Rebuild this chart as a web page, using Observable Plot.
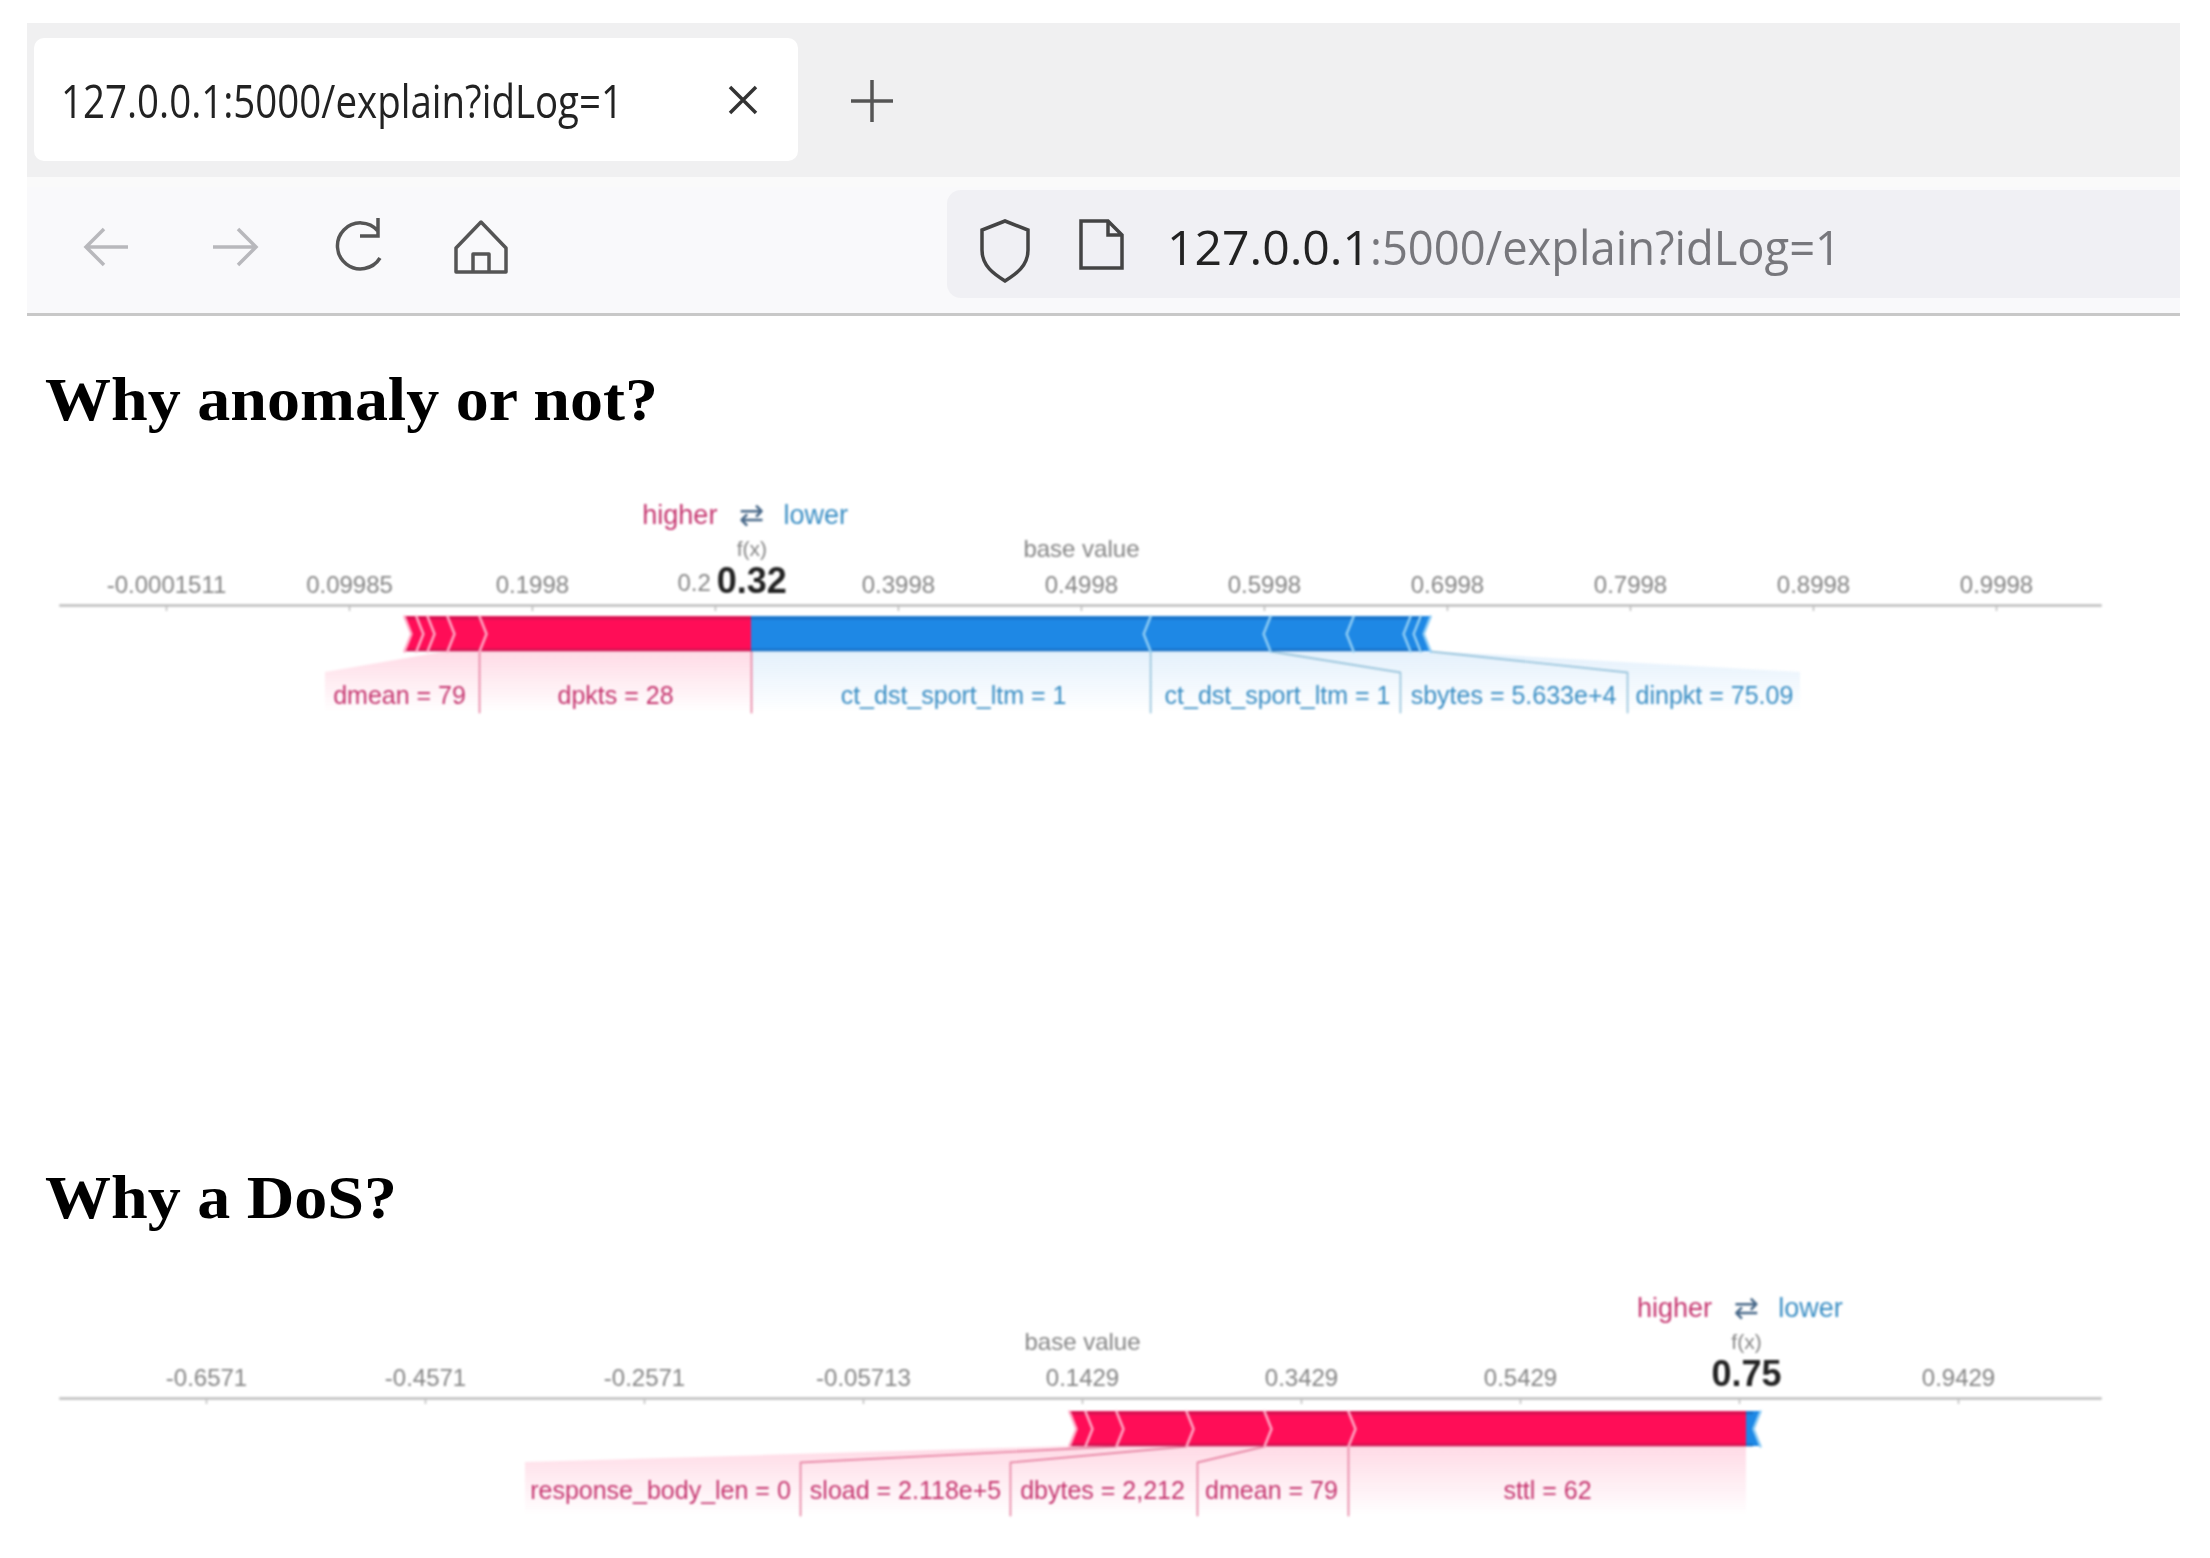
<!DOCTYPE html>
<html>
<head>
<meta charset="utf-8">
<script src="https://cdn.jsdelivr.net/npm/d3@7"></script>
<script src="https://cdn.jsdelivr.net/npm/@observablehq/plot@0.6"></script>
<style>
html,body{margin:0;padding:0;background:#fff;}
#page{position:relative;width:2210px;height:1558px;overflow:hidden;}
#chrome{position:absolute;left:0;top:0;filter:blur(.7px);}
.plot{position:absolute;left:0;filter:blur(.9px);}
#plotA{top:490px;}
#plotB{top:1285px;}
</style>
</head>
<body>
<div id="page">
<svg id="chrome" width="2210" height="1558" xmlns="http://www.w3.org/2000/svg">
  <rect x="27" y="23" width="2153" height="154" fill="#f0f0f1"/>
  <rect x="27" y="177" width="2153" height="136" fill="#f9f9fb"/>
  <rect x="27" y="177" width="2153" height="10" fill="#fafafa"/>
  <rect x="34" y="38" width="764" height="123" rx="10" fill="#ffffff"/>
  <rect x="947" y="190" width="1233" height="108" rx="14" fill="#f0f0f4"/>
  <rect x="1500" y="190" width="680" height="108" fill="#f0f0f4"/>
  <rect x="27" y="313" width="2153" height="3" fill="#c8c8c8"/>
  <text x="61" y="118" font-family="Open Sans" font-size="45" fill="#222" textLength="562" lengthAdjust="spacingAndGlyphs">127.0.0.1:5000/explain?idLog=1</text>
  <path d="M730 87 L756 113 M756 87 L730 113" stroke="#333" stroke-width="3.5" fill="none"/>
  <path d="M872 80 V122 M851 101 H893" stroke="#555" stroke-width="3.5" fill="none"/>
  <path d="M128 247 H86 M104 229 L86 247 L104 265" stroke="#b8b8bc" stroke-width="3.5" fill="none"/>
  <path d="M213 247 H256 M238 229 L256 247 L238 265" stroke="#b8b8bc" stroke-width="3.5" fill="none"/>
  <path d="M378 231 A23 23 0 1 0 380 258 M378 218 V236 H360" stroke="#555" stroke-width="3.5" fill="none"/>
  <path d="M481 222 L456 248 V272 H506 V248 Z M473 272 V254 H489 V272" stroke="#555" stroke-width="3.5" fill="none" stroke-linejoin="round"/>
  <path d="M1005 221 L1028 230 V250 C1028 266 1016 274 1005 281 C994 274 982 266 982 250 V230 Z" stroke="#444" stroke-width="3.5" fill="none"/>
  <path d="M1081 221 H1108 L1122 235 V268 H1081 Z M1108 221 V235 H1122" stroke="#444" stroke-width="3.5" fill="none"/>
  <text x="1167" y="265" font-family="Open Sans" font-size="48" fill="#222" textLength="203" lengthAdjust="spacingAndGlyphs">127.0.0.1</text>
  <text x="1370" y="265" font-family="Open Sans" font-size="48" fill="#77777c" textLength="471" lengthAdjust="spacingAndGlyphs">:5000/explain?idLog=1</text>
  <text x="45" y="420" font-family="Liberation Serif" font-weight="bold" font-size="62" fill="#000" textLength="613" lengthAdjust="spacingAndGlyphs">Why anomaly or not?</text>
  <text x="45" y="1218" font-family="Liberation Serif" font-weight="bold" font-size="62" fill="#000" textLength="352" lengthAdjust="spacingAndGlyphs">Why a DoS?</text>
</svg>
<div id="plotA" class="plot"></div>
<div id="plotB" class="plot"></div>
</div>
<script>
// ---- Chart 1: "Why anomaly or not?" ----
// Tick 0.2998 is mostly covered by the f(x) value in the reference: only "0.2" can be read.
const anomalyTicks = [-0.0001511, 0.09985, 0.1998, 0.2998, 0.3998, 0.4998, 0.5998, 0.6998, 0.7998, 0.8998, 0.9998];
const anomalyTickLabels = ["-0.0001511", "0.09985", "0.1998", "", "0.3998", "0.4998", "0.5998", "0.6998", "0.7998", "0.8998", "0.9998"];
const anomalyPartialTick = {x: 0.2998, text: "0.2"};
const anomalyRedEdges = [0.1299, 0.1364, 0.1425, 0.1534, 0.1709, 0.3195];
const anomalyBlueEdges = [0.3195, 0.5376, 0.6031, 0.6485, 0.6796, 0.6851, 0.6906];
const anomalyFeatures = ["dmean = 79", "dpkts = 28", "ct_dst_sport_ltm = 1", "ct_dst_sport_ltm = 1", "sbytes = 5.633e+4", "dinpkt = 75.09"];
const anomalyFeatureX = [0.1272, 0.2452, 0.4299, 0.6069, 0.7359, 0.8457];
const anomalySides = ["red", "red", "blue", "blue", "blue", "blue"];
const anomalyZoneBarLo = [0.1534, 0.1709, 0.3195, 0.5376, 0.6031, 0.6906];
const anomalyZoneBarHi = [0.1709, 0.3195, 0.5376, 0.6031, 0.6906, 0.6906];
const anomalyZoneLabelLo = [0.0867, 0.1709, 0.3195, 0.5376, 0.6741, 0.7982];
const anomalyZoneLabelHi = [0.1709, 0.3195, 0.5376, 0.6741, 0.7982, 0.8927];
const anomalyFx = 0.3197, anomalyFxLabel = "0.32", anomalyBase = 0.4998;

// ---- Chart 2: "Why a DoS?" ----
// Tick 0.7429 is entirely covered by the f(x) value in the reference.
const dosTicks = [-0.6571, -0.4571, -0.2571, -0.05713, 0.1429, 0.3429, 0.5429, 0.7429, 0.9429];
const dosTickLabels = ["-0.6571", "-0.4571", "-0.2571", "-0.05713", "0.1429", "0.3429", "0.5429", "", "0.9429"];
const dosRedEdges = [0.1310, 0.1456, 0.1739, 0.2379, 0.3091, 0.3858, 0.7493];
const dosBlueEdges = [0.7493, 0.7621];
const dosFeatures = ["response_body_len = 0", "sload = 2.118e+5", "dbytes = 2,212", "dmean = 79", "sttl = 62"];
const dosFeatureX = [-0.2425, -0.0187, 0.1612, 0.3155, 0.5676];
const dosSides = ["red", "red", "red", "red", "red"];
const dosZoneBarLo = [0.1310, 0.1739, 0.2379, 0.3091, 0.3858];
const dosZoneBarHi = [0.1739, 0.2379, 0.3091, 0.3858, 0.7493];
const dosZoneLabelLo = [-0.3658, -0.1146, 0.0771, 0.2479, 0.3858];
const dosZoneLabelHi = [-0.1146, 0.0771, 0.2479, 0.3858, 0.7493];
const dosFx = 0.7493, dosFxLabel = "0.75", dosBase = 0.1429;

const RED = "#ff0d57", BLUE = "#1e88e5";
const RED_TEXT = "#c5356f", BLUE_TEXT = "#3a8ec4", TICK_TEXT = "#858585";

function forcePlot({id, ticks, tickLabels, partialTick, redEdges, blueEdges, features, featureX, sides,
                    zoneBarLo, zoneBarHi, zoneLabelLo, zoneLabelHi, fx, fxLabel, base,
                    xRange, xDomain, chevron, axisTop, barTop, connector, dropEnd}) {
  const W = 2210, barH = 35;
  const yAt = px => (px - barTop) / barH;              // bar-height units, 0 = top of bar, 1 = bottom
  const axisY = yAt(axisTop), connY = yAt(connector), endY = yAt(dropEnd);

  const segments = [];
  redEdges.slice(0, -1).forEach((lo, i) => {
    const hi = redEdges[i + 1], last = i === redEdges.length - 2;
    segments.push({key: "r" + i, side: "red", y: 0, x1: lo, x2: hi});
    segments.push({key: "r" + i, side: "red", y: .5, x1: lo + chevron, x2: last ? hi : hi + chevron});
    segments.push({key: "r" + i, side: "red", y: 1, x1: lo, x2: hi});
  });
  blueEdges.slice(0, -1).forEach((lo, i) => {
    const hi = blueEdges[i + 1];
    segments.push({key: "b" + i, side: "blue", y: 0, x1: lo, x2: hi});
    segments.push({key: "b" + i, side: "blue", y: .5, x1: i === 0 ? lo : lo - chevron, x2: hi - chevron});
    segments.push({key: "b" + i, side: "blue", y: 1, x1: lo, x2: hi});
  });

  const seps = [];
  redEdges.slice(0, -1).forEach((e, i) => {
    [0, .5, 1].forEach(y => seps.push({key: "r" + i, side: "red", x: y === .5 ? e + chevron : e, y}));
  });
  blueEdges.slice(1).forEach((e, i) => {
    [0, .5, 1].forEach(y => seps.push({key: "b" + i, side: "blue", x: y === .5 ? e - chevron : e, y}));
  });

  const zones = [];
  features.forEach((f, i) => {
    zones.push({key: i, side: sides[i], y: 1, x1: zoneBarLo[i], x2: zoneBarHi[i]});
    zones.push({key: i, side: sides[i], y: connY, x1: zoneLabelLo[i], x2: zoneLabelHi[i]});
    zones.push({key: i, side: sides[i], y: endY, x1: zoneLabelLo[i], x2: zoneLabelHi[i]});
  });

  const drops = [];
  features.forEach((f, i) => {
    drops.push({key: i, side: sides[i], x: zoneBarHi[i], y: 1});
    drops.push({key: i, side: sides[i], x: zoneLabelHi[i], y: connY});
    drops.push({key: i, side: sides[i], x: zoneLabelHi[i], y: endY});
  });
  const dropsShown = drops.filter(d => !(d.key === features.length - 1));

  const rowFont = 25;
  const defs = () => d3.create("svg:defs").html(
    `<linearGradient id="${id}r" x1="0" y1="0" x2="0" y2="1"><stop offset="0" stop-color="${RED}" stop-opacity=".15"/><stop offset="1" stop-color="${RED}" stop-opacity="0"/></linearGradient>
     <linearGradient id="${id}b" x1="0" y1="0" x2="0" y2="1"><stop offset="0" stop-color="${BLUE}" stop-opacity=".12"/><stop offset="1" stop-color="${BLUE}" stop-opacity="0"/></linearGradient>`
  ).node();

  const plot = Plot.plot({
    width: W, height: 240,
    marginLeft: 60, marginRight: W - 2100, marginTop: axisTop, marginBottom: 0,
    style: {background: "transparent", fontFamily: "Liberation Sans", overflow: "visible"},
    x: {domain: xDomain, range: xRange, axis: null},
    y: {domain: [0, 1], range: [barTop, barTop + barH], axis: null},
    marks: [
      defs,
      Plot.frame({anchor: "top", stroke: "#bdbdbd", strokeWidth: 2.5}),
      Plot.ruleX(ticks, {x: d => d, y1: axisY, y2: yAt(axisTop + 6), stroke: "#bdbdbd", strokeWidth: 1.5}),
      Plot.axisX({anchor: "top", ticks, tickFormat: d => tickLabels[ticks.indexOf(d)],
        tickSize: 0, tickPadding: 13, fontSize: 24, fill: TICK_TEXT, label: null, lineWidth: Infinity}),
      ...(partialTick ? [Plot.text([partialTick], {x: "x", y: yAt(axisTop - 22), dx: -38, text: "text",
        textAnchor: "start", fontSize: 24, fill: TICK_TEXT})] : []),
      Plot.areaX(zones.filter(d => d.side === "red"), {x1: "x1", x2: "x2", y: "y", z: "key", fill: `url(#${id}r)`}),
      Plot.areaX(zones.filter(d => d.side === "blue"), {x1: "x1", x2: "x2", y: "y", z: "key", fill: `url(#${id}b)`}),
      Plot.line(dropsShown.filter(d => d.side === "red"), {x: "x", y: "y", z: "key", stroke: "#e88aa8", strokeWidth: 1.8, curve: "linear"}),
      Plot.line(dropsShown.filter(d => d.side === "blue"), {x: "x", y: "y", z: "key", stroke: "#9cc6dd", strokeWidth: 1.8, curve: "linear"}),
      Plot.areaX(segments.filter(d => d.side === "red"), {x1: "x1", x2: "x2", y: "y", z: "key", fill: RED}),
      Plot.areaX(segments.filter(d => d.side === "blue"), {x1: "x1", x2: "x2", y: "y", z: "key", fill: BLUE}),
      Plot.ruleY([.04, .96], {x1: redEdges[0], x2: redEdges[redEdges.length - 1], stroke: "#b8174f", strokeOpacity: .6, strokeWidth: 3}),
      Plot.ruleY([.04, .96], {x1: blueEdges[0], x2: blueEdges[blueEdges.length - 1] - chevron, stroke: "#1565b5", strokeOpacity: .6, strokeWidth: 3}),
      Plot.line(seps.filter(d => d.side === "red"), {x: "x", y: "y", z: "key", stroke: "#ffa9c4", strokeWidth: 2.5}),
      Plot.line(seps.filter(d => d.side === "blue"), {x: "x", y: "y", z: "key", stroke: "#8fcdf5", strokeWidth: 2.5}),
      Plot.text(features.map((f, i) => ({f, x: featureX[i], side: sides[i]})), {
        x: "x", y: yAt(barTop + 79), text: "f", fontSize: rowFont,
        fill: d => d.side === "red" ? RED_TEXT : BLUE_TEXT, lineWidth: Infinity}),
      Plot.text([fx], {x: d => d, y: yAt(axisTop - 56), text: () => "f(x)", fontSize: 21, fill: TICK_TEXT}),
      Plot.text([base], {x: d => d, y: yAt(axisTop - 56), text: () => "base value", fontSize: 24, fill: TICK_TEXT}),
      Plot.text([fx], {x: d => d, y: yAt(axisTop - 24), text: () => fxLabel, fontSize: 36, fontWeight: "bold", fill: "#222"}),
      Plot.text([fx], {x: d => d, y: yAt(axisTop - 90), dx: -72, text: () => "higher", fontSize: 27, fill: RED_TEXT}),
      Plot.text([fx], {x: d => d, y: yAt(axisTop - 90), text: () => "⇄", fontSize: 30, fontFamily: "DejaVu Sans", fill: "#4a6a8a"}),
      Plot.text([fx], {x: d => d, y: yAt(axisTop - 90), dx: 64, text: () => "lower", fontSize: 27, fill: BLUE_TEXT})
    ]
  });
  document.getElementById(id).appendChild(plot);
}

forcePlot({
  id: "plotA", ticks: anomalyTicks, tickLabels: anomalyTickLabels, partialTick: anomalyPartialTick,
  redEdges: anomalyRedEdges, blueEdges: anomalyBlueEdges,
  features: anomalyFeatures, featureX: anomalyFeatureX, sides: anomalySides,
  zoneBarLo: anomalyZoneBarLo, zoneBarHi: anomalyZoneBarHi,
  zoneLabelLo: anomalyZoneLabelLo, zoneLabelHi: anomalyZoneLabelHi,
  fx: anomalyFx, fxLabel: anomalyFxLabel, base: anomalyBase,
  xDomain: [-0.0001511, 0.9998], xRange: [166, 1996], chevron: 0.0038,
  axisTop: 115, barTop: 126, connector: 182, dropEnd: 222
});

forcePlot({
  id: "plotB", ticks: dosTicks, tickLabels: dosTickLabels, partialTick: null,
  redEdges: dosRedEdges, blueEdges: dosBlueEdges,
  features: dosFeatures, featureX: dosFeatureX, sides: dosSides,
  zoneBarLo: dosZoneBarLo, zoneBarHi: dosZoneBarHi,
  zoneLabelLo: dosZoneLabelLo, zoneLabelHi: dosZoneLabelHi,
  fx: dosFx, fxLabel: dosFxLabel, base: dosBase,
  xDomain: [-0.6571, 0.9429], xRange: [206, 1958], chevron: 0.0064,
  axisTop: 113, barTop: 126, connector: 177, dropEnd: 230
});
</script>
</body>
</html>
